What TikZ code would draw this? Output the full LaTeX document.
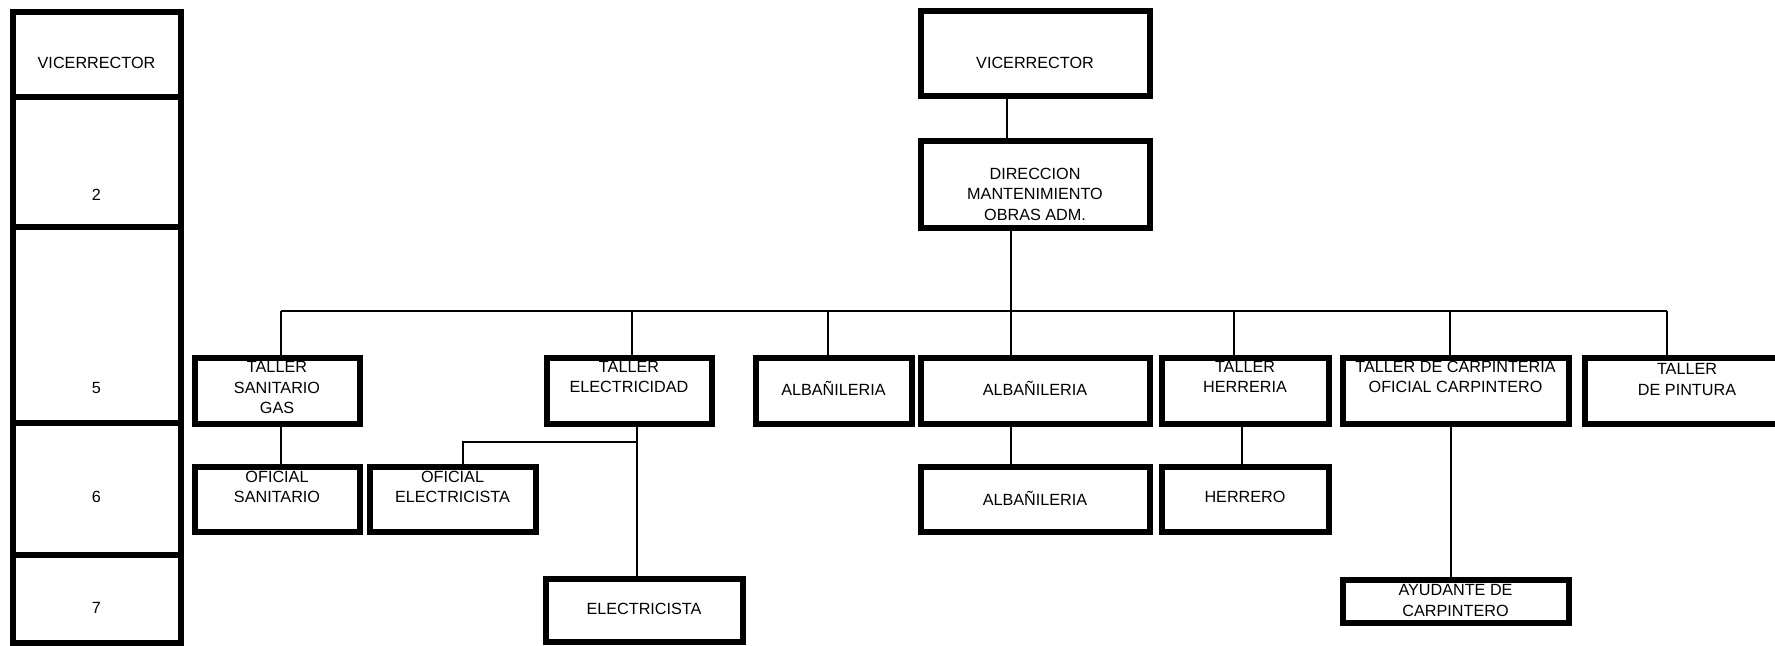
\documentclass[tikz,border=0pt]{standalone}
\usepackage{fontspec}
\setmainfont{Liberation Sans}
\usepackage{tikz}
\usetikzlibrary{positioning,calc}

\tikzset{
  box/.style={draw, line width=3pt, inner sep=0pt, outer sep=0pt},
  txt/.style={align=center, inner sep=0pt, font=\fontsize{8.1}{10.25}\selectfont},
  conn/.style={line width=0.85pt},
}

\begin{document}
\begin{tikzpicture}[x=0.5pt, y=-0.5pt]
		\useasboundingbox (0,0) rectangle (1775,645);
		
		% levels column
		\node[box, minimum width=84pt, minimum height=42.75pt] (lvic) at (96.5,54.25) {};
		\node[box, minimum width=84pt, minimum height=65pt, below=0pt of lvic] (lniv2) {};
		\node[box, minimum width=84pt, minimum height=98pt, below=0pt of lniv2] (lniv5) {};
		\node[box, minimum width=84pt, minimum height=66pt, below=0pt of lniv5] (lniv6) {};
		\node[box, minimum width=84pt, minimum height=43.75pt, below=0pt of lniv6] (lniv7) {};
		\node[txt, shift={(0,8.75)}] (lvict) at (lvic) {VICERRECTOR};
		\node[txt, shift={(0,33)}] (lniv2t) at (lniv2) {2};
		\node[txt, shift={(0,63)}] (lniv5t) at (lniv5) {5};
		\node[txt, shift={(0,8)}] (lniv6t) at (lniv6) {6};
		\node[txt, shift={(0,9.25)}] (lniv7t) at (lniv7) {7};
		
		% top
		\node[box, minimum width=114.5pt, minimum height=42.5pt] (vic) at (1035,53) {};
		\node[box, minimum width=114.5pt, minimum height=43.5pt, below=22.5pt of vic] (dir) {};
		\node[txt, shift={(0,10)}] (vict) at (vic) {VICERRECTOR};
		\node[txt, shift={(0,10)}] (dirt) at (dir) {DIRECCION\\MANTENIMIENTO\\OBRAS ADM.};
		
		% talleres
		\node[box, minimum width=114.5pt, minimum height=33pt, below=65pt of dir] (albb) {};
		\node[box, minimum width=78pt, minimum height=33pt, left=4.5pt of albb] (alb) {};
		\node[box, minimum width=82.5pt, minimum height=33pt, left=22pt of alb] (elec) {};
		\node[box, minimum width=82.5pt, minimum height=33pt] (san) at (277,390.5) {};
		\node[box, minimum width=83.5pt, minimum height=33pt, right=6pt of albb] (herr) {};
		\node[box, minimum width=113pt, minimum height=33pt, right=7pt of herr] (carp) {};
		\node[box, minimum width=102.5pt, minimum height=33pt, right=8pt of carp] (pint) {};
		\node[txt, shift={(0,-3)}] (sant) at (san) {TALLER\\SANITARIO\\GAS};
		\node[txt, shift={(0,-13.5)}] (elect) at (elec) {TALLER\\ELECTRICIDAD};
		\node[txt, shift={(0,-2.5)}] (albt) at (alb) {ALBAÑILERIA};
		\node[txt, shift={(0,-2.5)}] (albbt) at (albb) {ALBAÑILERIA};
		\node[txt, shift={(0,-13.5)}] (herrt) at (herr) {TALLER\\HERRERIA};
		\node[txt, shift={(0,-13.5)}] (carpt) at (carp) {TALLER DE CARPINTERIA\\OFICIAL CARPINTERO};
		\node[txt, shift={(0,-11)}] (pintt) at (pint) {TALLER\\DE PINTURA};
		
		% oficiales
		\node[box, minimum width=82.5pt, minimum height=32.5pt, below=21.5pt of san] (ofsan) {};
		\node[box, minimum width=83pt, minimum height=32.5pt, right=5pt of ofsan] (ofelec) {};
		\node[box, minimum width=114.5pt, minimum height=32.5pt, below=21.5pt of albb] (albc) {};
		\node[box, minimum width=83.5pt, minimum height=32.5pt, below=21.5pt of herr] (herrero) {};
		\node[box, minimum width=98.5pt, minimum height=31.5pt] (elt) at (644,610) {};
		\node[box, minimum width=113pt, minimum height=21.5pt, below=78pt of carp] (ayud) {};
		\node[txt, shift={(0,-12)}] (ofsant) at (ofsan) {OFICIAL\\SANITARIO};
		\node[txt, shift={(0,-12)}] (ofelect) at (ofelec) {OFICIAL\\ELECTRICISTA};
		\node[txt, shift={(0,-1)}] (albct) at (albc) {ALBAÑILERIA};
		\node[txt, shift={(0,-2)}] (herrerot) at (herrero) {HERRERO};
		\node[txt, shift={(0,-1)}] (eltt) at (elt) {ELECTRICISTA};
		\node[txt, shift={(0,-0.5)}] (ayudt) at (ayud) {AYUDANTE DE\\CARPINTERO};
		
		% lines
		\draw[conn] ($(vic.south)+(-28,0)$) -- ($(dir.north)+(-28,0)$);
		\coordinate (busl) at ($(san.north)+(4,-46.5)$);
		\coordinate (busr) at ($(pint.north)+(-20,-46.5)$);
		\draw[conn] (busl) -- (busr);
		\draw[conn] ($(dir.south)+(-24,0)$) coordinate (dd) -- (dd |- busl);
		\foreach \n/\dx in {san/4, elec/3, alb/-5.5, albb/-24, herr/-11, carp/-5.5, pint/-20}
			\draw[conn] ($(\n.north)+(\dx,0)$) coordinate (drop) -- (drop |- busl);
		\draw[conn] ($(san.south)+(4,0)$) -- ($(ofsan.north)+(4,0)$);
		\draw[conn] ($(elec.south)+(8,0)$) -- ($(elt.north)+(-7,0)$);
		\draw[conn] ($(ofelec.north)+(10.5,0)$) |- ($(elec.south)+(8,18.5)$);
		\draw[conn] ($(albb.south)+(-24,0)$) -- ($(albc.north)+(-24,0)$);
		\draw[conn] ($(herr.south)+(-3,0)$) -- ($(herrero.north)+(-3,0)$);
		\draw[conn] ($(carp.south)+(-4.5,0)$) -- ($(ayud.north)+(-4.5,0)$);
	\end{tikzpicture}
\end{document}
